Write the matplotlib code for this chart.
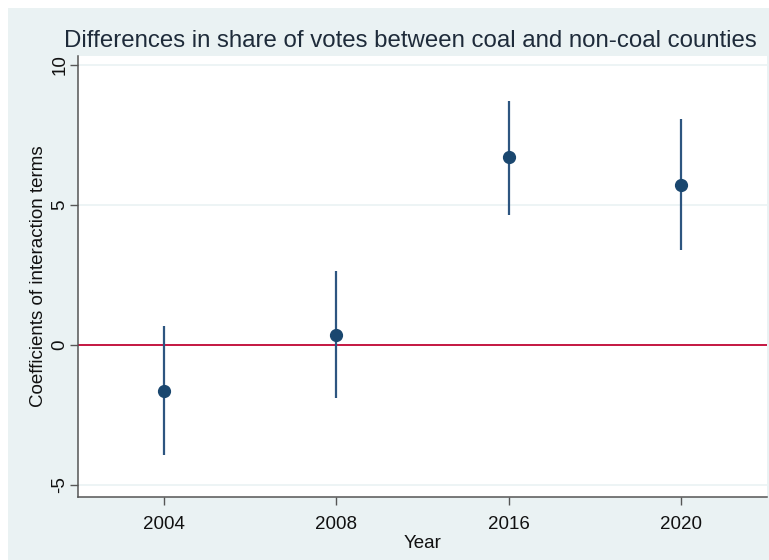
import matplotlib.pyplot as plt
from matplotlib.patches import Rectangle

years = ["2004", "2008", "2016", "2020"]
coef = [-1.63, 0.36, 6.70, 5.73]
ci_low = [-3.93, -1.88, 4.64, 3.40]
ci_high = [0.69, 2.64, 8.72, 8.07]

BG = "#eaf2f3"
NAVY = "#1a476f"

plt.rcParams["font.family"] = ["Liberation Sans", "DejaVu Sans"]

fig = plt.figure(figsize=(7.69, 5.6), dpi=100)
fig.patches.append(Rectangle((8 / 769, 0), 1, 552 / 560, transform=fig.transFigure,
                             facecolor=BG, edgecolor="none", zorder=-5))

ax = fig.add_axes([78 / 769, 63 / 560, 689 / 769, 441 / 560])
ax.set_facecolor("white")

x = range(1, len(years) + 1)
ax.axhline(0, color="#c10534", lw=1.3, zorder=2)
ax.vlines(x, ci_low, ci_high, color="#2d5580", lw=1.6, zorder=3)
ax.plot(x, coef, "o", color=NAVY, ms=8.5, zorder=4)

ax.set_xlim(0.5, 4.5)
ax.set_ylim(-5.43, 10.32)
ax.set_xticks(list(x))
ax.set_xticklabels(years)
ax.set_yticks([-5, 0, 5, 10])
ax.set_yticklabels(["-5", "0", "5", "10"], rotation=90, va="center")
ax.yaxis.grid(True, color=BG, lw=1.2)
ax.set_axisbelow(True)

for s in ["top", "right"]:
    ax.spines[s].set_visible(False)
for s in ["left", "bottom"]:
    ax.spines[s].set_color("#555555")
    ax.spines[s].set_linewidth(1.1)
ax.tick_params(length=6, width=1, color="#555555", labelsize=13.5, labelcolor="#111111")
ax.tick_params(axis="x", pad=8)
ax.tick_params(axis="y", pad=1)

ax.set_xlabel("Year", fontsize=13.5, color="#111111", labelpad=1)
ax.set_ylabel("Coefficients of interaction terms", fontsize=13.5, color="#111111", labelpad=3)
fig.text(0.534, 0.927, "Differences in share of votes between coal and non-coal counties",
         ha="center", va="center", fontsize=17.3, color="#1e2b3a")

fig.savefig("out.png", dpi=100)
